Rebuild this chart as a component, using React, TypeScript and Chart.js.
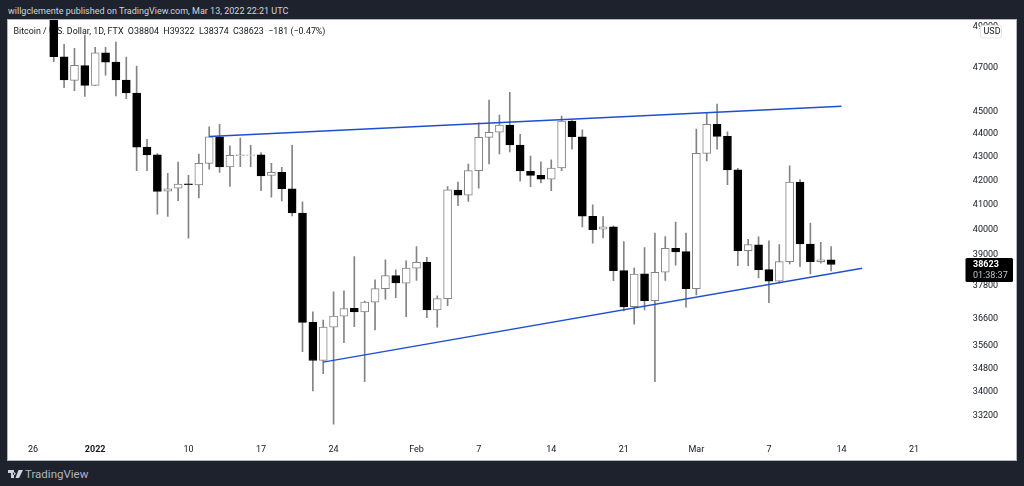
import React, { useEffect, useRef } from 'react';
import Chart from 'chart.js/auto';

// daily candles, Dec 28 2021 to Mar 13 2022
const opens = [
  50500, 47530, 46420, 47110,
  46190, 47720, 47280, 46440, 45840, 43430, 43090, 41560, 41680, 41860,
  41820, 42730, 43880, 42580, 43060, 43070, 43090, 42220, 42350, 41660,
  40660, 36450, 35090, 36280, 36680, 36970, 36840, 37195, 37700, 38195, 37910,
  38480, 38710, 36910, 37330, 41600, 41395, 42420, 43855, 44080, 44400,
  43520, 42395, 42225, 42060, 42530, 44575, 43880, 40530, 40010, 40100,
  38390, 37030, 38260, 37255, 38325, 39250, 39120, 37700,
  43160, 44430, 43900, 42450, 39160, 39385, 38425, 37980, 38735, 41940, 39420, 38730, 38804
];
const highs = [
  50700, 48130, 47930, 48570,
  47980, 47980, 48230, 47520, 47090, 43770, 43145, 42310, 42780, 42220,
  43130, 44320, 44430, 43480, 43820, 43510, 43190, 42730, 42560, 43510,
  41120, 36840, 36540, 37580, 37620, 38930, 37240, 38035, 38800, 38415, 38760,
  39320, 38905, 37430, 41750, 41940, 42700, 44500, 45520, 44840, 45870,
  43990, 43045, 42790, 42875, 44800, 44590, 44180, 40990, 40520, 40140,
  39515, 38480, 39280, 39850, 39715, 40290, 39850, 44220,
  44965, 45340, 44100, 42520, 39610, 39705, 39545, 39400, 42620, 42045, 40250, 39490, 39322
];
const lows = [
  47300, 46080, 45950, 45680,
  46190, 46660, 45710, 45580, 42420, 42420, 40610, 40520, 41170, 39650,
  41280, 42480, 42340, 41760, 42590, 42590, 41580, 41310, 41160, 40540,
  35400, 34040, 34630, 32930, 35720, 36300, 34360, 36180, 37310, 37365, 36665,
  38010, 36620, 36280, 37070, 40960, 41140, 41680, 42700, 43130, 43220,
  41980, 41745, 41900, 41580, 42420, 43335, 40100, 39450, 39665, 38005,
  36875, 36390, 36910, 34360, 38010, 38600, 37010, 37470,
  42830, 43335, 41830, 38580, 38580, 38110, 37180, 37905, 38645, 38540, 38265, 38670, 38374
];
const closes = [
  47530, 46440, 47130, 46190,
  47720, 47270, 46440, 45840, 43430, 43090, 41550, 41660, 41850, 41830,
  42730, 43880, 42580, 43070, 43090, 43090, 42200, 42350, 41660, 40660,
  36450, 35090, 36280, 36680, 36960, 36840, 37195, 37700, 38195, 37920, 38480,
  38710, 36910, 37330, 41610, 41395, 42420, 43855, 44080, 44400, 43520,
  42405, 42220, 42060, 42530, 44575, 43880, 40530, 39990, 40100, 38390,
  37020, 38250, 37255, 38325, 39255, 39110, 37700, 43160,
  44430, 43900, 42450, 39160, 39400, 38425, 37980, 38735, 41940, 39420, 38735, 38804, 38623
];

const months = [['Dec', 24, 31], ['Jan', 1, 31], ['Feb', 1, 28], ['Mar', 1, 26]];
const axisDays: string[] = [];
months.forEach(([name, from, to]) => {
  for (let d = from as number; d <= (to as number); d++) axisDays.push(`${name} ${d}`);
});
const candleDays = axisDays.slice(4, 80);

// the source axis really prints "Mar" one bar before Mar 1
const timeTicks: Record<string, string> = {
  'Dec 26': '26', 'Jan 1': '2022', 'Jan 10': '10', 'Jan 17': '17', 'Jan 24': '24',
  'Feb 1': 'Feb', 'Feb 7': '7', 'Feb 14': '14', 'Feb 21': '21', 'Feb 28': 'Mar',
  'Mar 7': '7', 'Mar 14': '14', 'Mar 21': '21'
};
const priceTicks = [49000, 47000, 45000, 44000, 43000, 42000, 41000, 40000, 39000, 37800, 36600, 35600, 34800, 34000, 33200];

const upperTrend = [{ x: 'Jan 12', y: 43890 }, { x: 'Mar 14', y: 45235 }];
const lowerTrend = [{ x: 'Jan 23', y: 35035 }, { x: 'Mar 16', y: 38480 }];

const lastPrice = 38623;
const countdown = '01:38:37';
const legendText = 'Bitcoin / U.S. Dollar, 1D, FTX  O38804  H39322  L38374  C38623  \u2212181 (\u22120.47%)';

const FONT = 'Roboto, sans-serif';
const WICK = '#848484';

const overlay = {
  id: 'overlay',
  beforeDatasetsDraw(chart) {
    const ctx = chart.ctx;
    ctx.save();
    ctx.font = `8.9px ${FONT}`;
    ctx.fillStyle = '#131722';
    ctx.textBaseline = 'middle';
    ctx.fillText(legendText, 5.5, 12);
    ctx.restore();
  },
  afterDraw(chart) {
    const ctx = chart.ctx;
    const y = chart.scales.y.getPixelForValue(lastPrice);
    ctx.save();
    // price tag
    ctx.fillStyle = '#000';
    ctx.beginPath();
    ctx.roundRect(957.5, y - 6.5, 47.5, 24, 1.5);
    ctx.fill();
    ctx.textBaseline = 'middle';
    ctx.font = `bold 9px ${FONT}`;
    ctx.fillStyle = '#fff';
    ctx.fillText(String(lastPrice), 965, y + 0.5);
    ctx.font = `9px ${FONT}`;
    ctx.fillStyle = '#c4c6cc';
    ctx.fillText(countdown, 965, y + 11.5);
    // currency box
    ctx.fillStyle = '#fff';
    ctx.strokeStyle = '#e0e3eb';
    ctx.beginPath();
    ctx.roundRect(972.5, 5.5, 21, 12.5, 2);
    ctx.fill();
    ctx.stroke();
    ctx.font = `9px ${FONT}`;
    ctx.fillStyle = '#131722';
    ctx.fillText('USD', 975.5, 12);
    ctx.restore();
  }
};

const App = () => {
  const chartRef = useRef(null);

  useEffect(() => {
    const up = candleDays.map((_, i) => closes[i] >= opens[i]);
    const chart = new Chart(chartRef.current.getContext('2d'), {
      type: 'bar',
      data: {
        labels: axisDays,
        datasets: [
          {
            type: 'line',
            data: upperTrend,
            borderColor: '#1f4fd0',
            borderWidth: 1.4,
            pointRadius: 0,
            order: 0
          },
          {
            type: 'line',
            data: lowerTrend,
            borderColor: '#1f4fd0',
            borderWidth: 1.4,
            pointRadius: 0,
            order: 0
          },
          {
            // candle bodies
            data: candleDays.map((d, i) => ({ x: d, y: [opens[i], closes[i]] })),
            backgroundColor: up.map(u => (u ? '#ffffff' : '#000000')),
            borderColor: up.map(u => (u ? WICK : '#000000')),
            borderWidth: 1,
            borderSkipped: false,
            barThickness: 8,
            grouped: false,
            order: 1
          },
          {
            // wicks
            data: candleDays.map((d, i) => ({ x: d, y: [lows[i], highs[i]] })),
            backgroundColor: WICK,
            barThickness: 1,
            grouped: false,
            order: 2
          }
        ]
      },
      options: {
        responsive: false,
        animation: false,
        layout: { autoPadding: false, padding: { left: 4.27, right: 0, top: 0, bottom: 0 } },
        plugins: { legend: { display: false }, tooltip: { enabled: false }, title: { display: false } },
        scales: {
          x: {
            type: 'category',
            offset: false,
            grid: { display: false, drawTicks: false },
            border: { display: false },
            afterBuildTicks(scale) {
              scale.ticks = scale.ticks.filter(t => timeTicks[axisDays[t.value]]);
            },
            afterFit(scale) {
              scale.height = 22;
              scale.paddingLeft = 0;
              scale.paddingRight = 0;
            },
            ticks: {
              autoSkip: false,
              maxRotation: 0,
              padding: 6,
              color: '#131722',
              font: ctx => ({
                family: FONT,
                size: 9,
                weight: ctx.tick && ctx.tick.label === '2022' ? 'bold' : 'normal'
              }),
              callback: value => timeTicks[axisDays[value]]
            }
          },
          y: {
            type: 'logarithmic',
            position: 'right',
            bounds: 'data',
            min: 32476,
            max: 49309,
            grid: { display: false, drawTicks: false },
            border: { display: false },
            afterBuildTicks(scale) {
              scale.ticks = priceTicks.map(value => ({ value }));
            },
            afterFit(scale) {
              // the half label padding would push the plot down from the top edge
              scale.width = 50.15;
              scale.paddingTop = 0;
              scale.paddingBottom = 0;
            },
            ticks: {
              autoSkip: false,
              crossAlign: 'near',
              padding: 7,
              color: '#131722',
              font: { family: FONT, size: 9 },
              callback: value => String(value)
            }
          }
        }
      },
      plugins: [overlay]
    });
    return () => chart.destroy();
  }, []);

  return (
    <div style={{ position: 'absolute', left: 0, top: 0, width: 1024, height: 486, background: '#1e222d', overflow: 'hidden', fontFamily: FONT }}>
      <div style={{ position: 'absolute', left: 8, top: 3, color: '#d1d4dc', fontSize: 9, lineHeight: '16px', whiteSpace: 'nowrap' }}>
        willgclemente published on TradingView.com, Mar 13, 2022 22:21 UTC
      </div>
      <canvas ref={chartRef} width={1008} height={440} style={{ position: 'absolute', left: 8, top: 20, background: '#fff', display: 'block', outline: '1px solid #b2b5be' }} />
      <svg style={{ position: 'absolute', left: 8, top: 470 }} width={15} height={9} viewBox="0 0 15 9">
        <path d="M0 0H6V8H3V3H0Z M6.2 2.2a1.4 1.4 0 1 0 0.01 0Z M10.5 0H15L11 8H7.5Z" fill="#d1d4dc" />
      </svg>
      <div style={{ position: 'absolute', left: 25, top: 465, color: '#b2b5be', fontSize: 11.5, lineHeight: '18px', whiteSpace: 'nowrap' }}>
        TradingView
      </div>
    </div>
  );
};

export default App;
